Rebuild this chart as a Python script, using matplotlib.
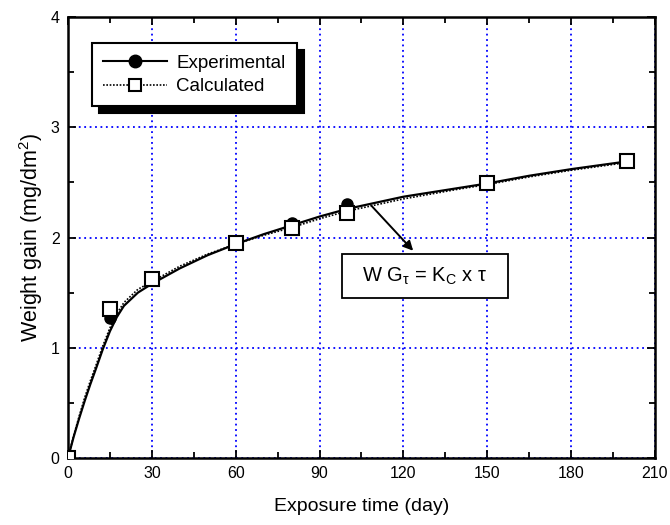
import matplotlib
matplotlib.use("Agg")
import matplotlib.pyplot as plt
from matplotlib.ticker import MultipleLocator
from matplotlib.lines import Line2D
from matplotlib.patches import Rectangle

plt.rcParams['font.family'] = ['Liberation Sans', 'DejaVu Sans']
plt.rcParams['mathtext.fontset'] = 'custom'
plt.rcParams['mathtext.rm'] = 'Liberation Sans'
plt.rcParams['mathtext.it'] = 'Liberation Sans:italic'

# measured points
t_exp = [0, 15, 30, 60, 80, 100, 150, 200]
wg_exp = [0, 1.27, 1.62, 1.95, 2.13, 2.30, 2.49, 2.69]
t_calc = [0, 15, 30, 60, 80, 100, 150, 200]
wg_calc = [0, 1.35, 1.62, 1.95, 2.09, 2.22, 2.49, 2.69]

# fitted curves
t_curve = [0, 2, 4, 6, 8, 10, 12.5, 15, 17.5, 20, 25, 30, 40, 50, 60, 70, 80,
           90, 100, 120, 140, 150, 165, 180, 200]
wg_curve_exp = [0, 0.19, 0.36, 0.52, 0.67, 0.81, 0.99, 1.15, 1.28, 1.38, 1.50,
                1.58, 1.72, 1.84, 1.94, 2.03, 2.11, 2.19, 2.26, 2.37, 2.45,
                2.49, 2.56, 2.62, 2.69]
wg_curve_calc = [0, 0.20, 0.38, 0.55, 0.70, 0.84, 1.02, 1.18, 1.31, 1.41, 1.53,
                 1.60, 1.74, 1.85, 1.94, 2.02, 2.09, 2.17, 2.24, 2.35, 2.44,
                 2.48, 2.55, 2.61, 2.68]

x_ticks = [0, 30, 60, 90, 120, 150, 180, 210]
y_ticks = [0, 1, 2, 3, 4]

fig = plt.figure(figsize=(6.7, 5.25), dpi=100)
ax = fig.add_axes([0.1015, 0.1276, 0.876, 0.84])

ax.grid(True, which='major', color='#0000ff', linestyle=(0, (1, 2)), linewidth=1.3)
ax.set_axisbelow(True)

ax.plot(t_curve, wg_curve_exp, color='black', linewidth=1.6, zorder=3)
ax.plot(t_curve, wg_curve_calc, color='black', linewidth=1.2, linestyle=(0, (1, 1)), zorder=3)
ax.plot(t_exp, wg_exp, 'o', color='black', markersize=8, zorder=4)
ax.plot(t_calc, wg_calc, 's', markerfacecolor='white', markeredgecolor='black',
        markeredgewidth=1.5, markersize=9.5, zorder=5)

ax.set_xlim(0, 210)
ax.set_ylim(0, 4)
ax.set_xticks(x_ticks)
ax.set_yticks(y_ticks)
ax.xaxis.set_minor_locator(MultipleLocator(15))
ax.yaxis.set_minor_locator(MultipleLocator(0.5))
ax.tick_params(which='both', direction='in', top=True, right=True, width=1.3,
               labelsize=11.5, pad=6)
ax.tick_params(which='major', length=6)
ax.tick_params(which='minor', length=4)
for s in ax.spines.values():
    s.set_linewidth(1.8)

ax.set_xlabel('Exposure time (day)', fontsize=14, labelpad=12)
ax.set_ylabel('Weight gain (mg/dm$^2$)', fontsize=15.5, labelpad=4)

handles = [
    Line2D([0], [0], color='black', linewidth=1.5, marker='o', markersize=9),
    Line2D([0], [0], color='black', linewidth=1.2, linestyle=(0, (1, 1)), marker='s',
           markerfacecolor='white', markeredgecolor='black', markeredgewidth=1.5,
           markersize=8),
]
leg = ax.legend(handles, ['Experimental', 'Calculated'], loc='upper left',
                bbox_to_anchor=(0.025, 0.962), fontsize=13.5, frameon=True,
                fancybox=False, edgecolor='black', framealpha=1,
                shadow={'color': 'black', 'alpha': 1, 'ox': 5, 'oy': -5},
                handlelength=3.4, borderpad=0.6, labelspacing=0.35,
                handletextpad=0.5)
leg.get_frame().set_linewidth(1.5)
leg.set_zorder(10)

ax.annotate('', xy=(123.5, 1.88), xytext=(108.5, 2.29),
            arrowprops=dict(arrowstyle='-|>', color='black', lw=1.4,
                            mutation_scale=14, shrinkA=0, shrinkB=0), zorder=6)
box = Rectangle((0.4668, 0.3628), 0.2828, 0.0998, transform=ax.transAxes,
                facecolor='white', edgecolor='black', linewidth=1.3, zorder=7)
ax.add_patch(box)
ax.text(0.608, 0.4127, r'W G$_{\mathrm{\tau}}$ = K$_{\mathrm{C}}$ x τ', fontsize=14.5,
        ha='center', va='center', zorder=8, transform=ax.transAxes)

fig.savefig('out.png', dpi=100)
